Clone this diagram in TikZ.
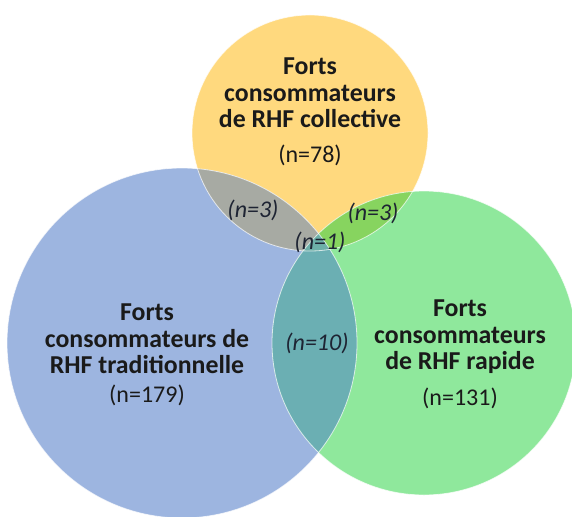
\documentclass[tikz,border=0pt]{standalone}
\usepackage{fontspec}
\setmainfont{Carlito}
\definecolor{cyel}{HTML}{FFD97E}
\definecolor{cblu}{HTML}{9DB5E0}
\definecolor{cgrn}{HTML}{8FE89C}
\definecolor{cyb}{HTML}{A7AAA3}
\definecolor{cyg}{HTML}{87D45F}
\definecolor{cbg}{HTML}{6BAFB3}
\definecolor{cybg}{HTML}{6DAFA8}
\definecolor{ctxt}{HTML}{1A1A1A}
\definecolor{clab}{HTML}{1E2433}
\begin{document}
\begin{tikzpicture}[x=1pt,y=-1pt,
  title/.style={font=\bfseries\fontsize{25.8}{26.5}\selectfont, align=center, text=ctxt, inner sep=0pt},
  count/.style={font=\fontsize{24}{26}\selectfont, text=ctxt, inner sep=0pt},
  overlap/.style={font=\itshape\fontsize{24}{26}\selectfont, text=clab, inner sep=0pt},
  edge/.style={draw=white, draw opacity=0.7, line width=0.8pt}]
\useasboundingbox (0,0) rectangle (572,516);
\fill[white] (0,0) rectangle (572,516);
\clip (0,0) rectangle (572,516);
% circles
\coordinate (Y) at (310,133);
\coordinate (B) at (182,343);
\coordinate (G) at (424,343);
\fill[cyel] (Y) circle (118);
\fill[cblu] (B) circle (175);
\fill[cgrn] (G) circle (152);
\begin{scope}
  \clip (Y) circle (118);
  \fill[cyb] (B) circle (175);
  \fill[cyg] (G) circle (152);
\end{scope}
\begin{scope}
  \clip (B) circle (175);
  \fill[cbg] (G) circle (152);
  \clip (G) circle (152);
  \fill[cybg] (Y) circle (118);
\end{scope}
\draw[edge] (Y) circle (118);
\draw[edge] (B) circle (175);
\draw[edge] (G) circle (152);
% texts
\node[title] (ty) at (310,93) {Forts\\consommateurs\\de RHF collective};
\node[count] (ny) at (310,155) {(n=78)};
\node[title] (tb) at (147,339) {Forts\\consommateurs de\\RHF traditionnelle};
\node[count] (nb) at (147,395) {(n=179)};
\node[title] (tg) at (460,337) {Forts\\consommateurs\\de RHF rapide};
\node[count] (ng) at (460,398) {(n=131)};
\node[overlap] (oyb) at (253,210) {(n=3)};
\node[overlap] (oyg) at (373,213) {(n=3)};
\node[overlap] (oybg) at (320,242) {(n=1)};
\node[overlap] (obg) at (317,343) {(n=10)};
\end{tikzpicture}
\end{document}
